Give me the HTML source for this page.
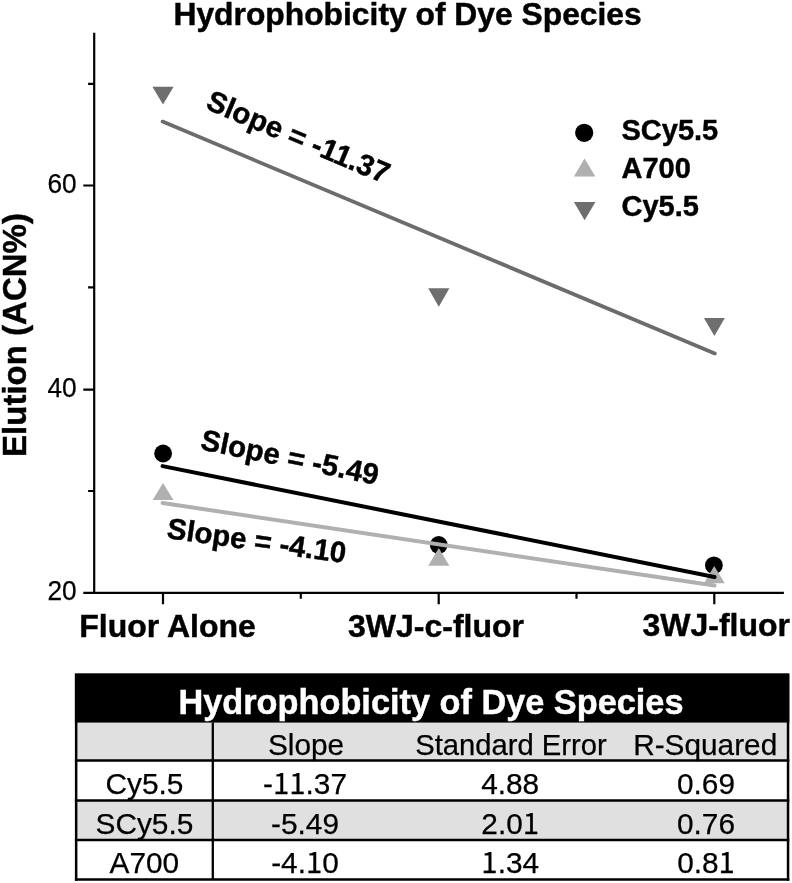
<!DOCTYPE html>
<html><head><meta charset="utf-8"><title>Hydrophobicity of Dye Species</title>
<style>
html,body{margin:0;padding:0;background:#fff;}
svg{display:block;}
text{font-family:"Liberation Sans",Arial,sans-serif;fill:#000;}
.o{font-family:"Noto Sans CJK SC","Liberation Sans",sans-serif;font-size:.985em;}
.b{font-weight:bold;stroke:#000;stroke-width:0.45px;}
.bi{font-weight:bold;font-style:italic;stroke:#000;stroke-width:0.45px;}
</style></head><body>
<svg width="792" height="883" viewBox="0 0 792 883">
<rect width="792" height="883" fill="#fff"/>
<!-- title -->
<text class="b" x="407.6" y="24.8" font-size="31.8" text-anchor="middle">Hydrophobicity of Dye Species</text>
<!-- axes -->
<g stroke="#000" stroke-width="2.2" fill="none">
<path d="M94.2 32.7V594"/>
<path d="M93.1 592.9H783.9"/>
<path d="M83.3 185.5H94M83.3 389.6H94M83.3 592.9H94"/>
<path d="M88.1 83.8H94M88.1 287.4H94M88.1 491H94"/>
<path d="M163 592.9V604.3M438.7 592.9V604.3M714.3 592.9V604.3"/>
<path d="M300.8 592.9V598.8M576.5 592.9V598.8"/>
</g>
<!-- y tick labels -->
<g font-size="27" text-anchor="end" stroke="#000" stroke-width="0.25">
<text x="76.6" y="192.9" textLength="29.2" lengthAdjust="spacingAndGlyphs">60</text>
<text x="76.6" y="397" textLength="29.2" lengthAdjust="spacingAndGlyphs">40</text>
<text x="76.6" y="600" textLength="29.2" lengthAdjust="spacingAndGlyphs">20</text>
</g>
<!-- y label -->
<text class="b" font-size="33" text-anchor="middle" transform="translate(26.3 335) rotate(-90)">Elution (ACN%)</text>
<!-- x labels -->
<g class="b" font-size="32">
<text x="79.2" y="636.7">Fluor Alone</text>
<text x="436" y="636.7" text-anchor="middle">3WJ-c-fluor</text>
<text x="790" y="635.8" text-anchor="end">3WJ-fluor</text>
</g>
<!-- Cy5.5 -->
<g fill="#6e6e6e">
<path d="M152.4 86.7H173.6L163 104.5Z"/>
<path d="M428.2 288.3H449.4L438.8 306.7Z"/>
<path d="M703.9 318H724.8L714.4 335.9Z"/>
</g>
<path d="M162.6 121.6L714.8 353.4" stroke="#6c6c6c" stroke-width="3.8" stroke-linecap="round"/>
<!-- SCy5.5 circles -->
<g fill="#000">
<circle cx="163.1" cy="453.5" r="8.9"/>
<circle cx="438.7" cy="545" r="8.9"/>
<circle cx="713.9" cy="565.3" r="8.9"/>
</g>
<!-- A700 triangles -->
<g fill="#b0b0b0">
<path d="M163 483L173.5 500H152.7Z"/>
<path d="M438.8 547.9L449.4 565.8H428.2Z"/>
<path d="M714.2 566L724.8 583.3H704Z"/>
</g>
<path d="M162.6 503L714.5 585.6" stroke="#b0b0b0" stroke-width="4" stroke-linecap="round"/>
<path d="M162.6 466.1L714.5 577" stroke="#000" stroke-width="4" stroke-linecap="round"/>
<!-- slope labels -->
<g class="b" font-size="29.4">
<text transform="translate(204.5 108.3) rotate(22.8)">Slope = -11.37</text>
<text transform="translate(199.5 449.2) rotate(11.4)">Slope = -5.49</text>
<text transform="translate(166 538) rotate(8)">Slope = -4.10</text>
</g>
<!-- legend -->
<circle cx="584.2" cy="132.8" r="9.1" fill="#000"/>
<path d="M584.5 158.6L595.4 176.6H573.9Z" fill="#b0b0b0"/>
<path d="M573.9 202H595.4L584.6 220.2Z" fill="#6e6e6e"/>
<g class="b" font-size="29">
<text x="621.5" y="140.4">SCy5.5</text>
<text x="621.5" y="178.3">A700</text>
<text x="621.5" y="215.8">Cy5.5</text>
</g>
<!-- table -->
<rect x="76" y="673.2" width="712" height="206" fill="#fff"/>
<rect x="76" y="722.5" width="712" height="38.1" fill="#e0e0e0"/>
<rect x="76" y="800.4" width="712" height="39.6" fill="#e0e0e0"/>
<rect x="74.9" y="673.3" width="714.4" height="49.3" fill="#000"/>
<g stroke="#000" stroke-width="2.5" fill="none">
<path d="M76.15 674V880.7M788.05 674V880.7"/>
<path d="M74.9 760.6H789.3M74.9 800.4H789.3M74.9 840H789.3M74.9 879.4H789.3"/>
<path d="M212.8 722.5V879.4" stroke-width="2.3"/>
</g>
<text class="b" x="431" y="714" font-size="34.3" text-anchor="middle" style="fill:#fff;stroke:#fff">Hydrophobicity of Dye Species</text>
<g font-size="29.8" text-anchor="middle" stroke="#000" stroke-width="0.25">
<text x="306" y="754.8">Slope</text>
<text x="511" y="754.8" textLength="191.6" lengthAdjust="spacingAndGlyphs">Standard Error</text>
<text x="705.2" y="754.8">R-Squared</text>
<text x="144.4" y="793.8">Cy5.5</text>
<text x="305" y="793.8">-<tspan class="o">11</tspan>.37</text>
<text x="510.2" y="793.8">4.88</text>
<text x="706" y="793.8">0.69</text>
<text x="144.4" y="833.8">SCy5.5</text>
<text x="305" y="833.8">-5.49</text>
<text x="510.2" y="833.8">2.0<tspan class="o">1</tspan></text>
<text x="706" y="833.8">0.76</text>
<text x="144.4" y="873.3">A700</text>
<text x="305" y="873.3">-4.<tspan class="o">1</tspan>0</text>
<text x="510.2" y="873.3"><tspan class="o">1</tspan>.34</text>
<text x="706" y="873.3">0.8<tspan class="o">1</tspan></text>
</g>
</svg>
</body></html>
